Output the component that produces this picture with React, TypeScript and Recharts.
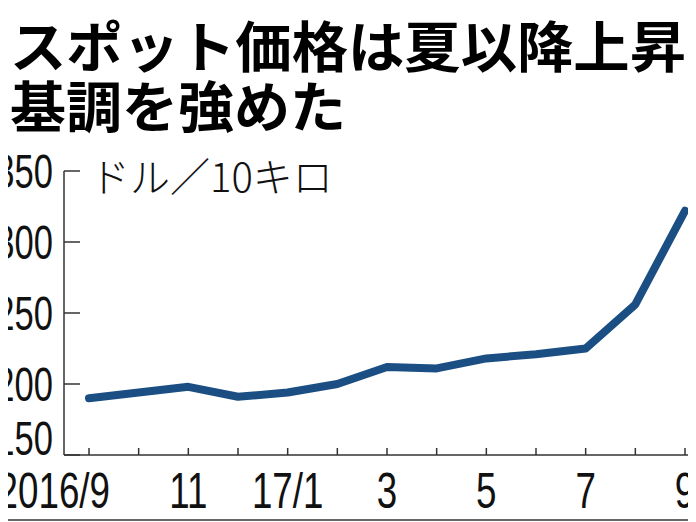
import { LineChart, Line, XAxis, YAxis } from 'recharts'

const months = ['2016/9', '10', '11', '12', '17/1', '2', '3', '4', '5', '6', '7', '8', '9']
const prices = [190, 194, 198, 191, 194, 200, 212, 211, 218, 221, 225, 256, 322]
const shownMonths = ['2016/9', '11', '17/1', '3', '5', '7', '9']
const yTicks = [150, 200, 250, 300, 350]

const titleLines = ['スポット価格は夏以降上昇', '基調を強めた']
const unitLabel = 'ドル／10キロ'

const data = months.map((month, i) => ({ month, price: prices[i] }))

const numFont = '"Liberation Sans", Arial, sans-serif'
const jpFont = '"Noto Sans CJK JP", "Noto Sans", sans-serif'

function XTick(props: any) {
  const { x, y, payload } = props
  if (!shownMonths.includes(payload.value)) return <g />
  // first label sits left of its tick in the original
  const first = payload.value === months[0]
  return (
    <text
      transform={`translate(${first ? x + 21 : x},${y + 60}) scale(0.75,1)`}
      textAnchor={first ? 'end' : 'middle'}
      fontFamily={numFont}
      fontSize={49}
      fill="#111"
    >
      {payload.value}
    </text>
  )
}

function YTick(props: any) {
  const { x, y, payload } = props
  const base = payload.value === 150 ? y : y + 17
  return (
    <text
      transform={`translate(${x},${base}) scale(0.72,1)`}
      textAnchor="end"
      fontFamily={numFont}
      fontSize={48}
      fill="#111"
    >
      {payload.value}
    </text>
  )
}

export default function App() {
  return (
    <div
      style={{
        position: 'relative',
        width: 696,
        height: 522,
        margin: '-8px 0 0 -8px',
        overflow: 'hidden',
        background: '#fff',
      }}
    >
      <LineChart
        width={730}
        height={522}
        data={data}
        margin={{ top: 171, right: 20, bottom: 7, left: 0 }}
      >
        <XAxis
          dataKey="month"
          interval={0}
          height={60}
          padding={{ left: 25, right: 25 }}
          axisLine={{ stroke: '#333', strokeWidth: 1.5 }}
          tickLine={{ stroke: '#333', strokeWidth: 1.5 }}
          tickSize={-7}
          tickMargin={0}
          tick={<XTick />}
        />
        <YAxis
          width={64}
          domain={[150, 350]}
          ticks={yTicks}
          interval={0}
          axisLine={{ stroke: '#333', strokeWidth: 1.5 }}
          tickLine={{ stroke: '#333', strokeWidth: 1.5 }}
          tickSize={-16}
          tickMargin={27}
          tick={<YTick />}
        />
        <Line
          dataKey="price"
          stroke="#1b4e82"
          strokeWidth={8}
          strokeLinejoin="round"
          strokeLinecap="round"
          dot={false}
          isAnimationActive={false}
        />
      </LineChart>
      <svg
        width={696}
        height={522}
        style={{ position: 'absolute', left: 0, top: 0, pointerEvents: 'none' }}
      >
        <line x1={0} y1={1} x2={696} y2={1} stroke="#555" strokeWidth={2} />
        <line x1={0} y1={520} x2={696} y2={520} stroke="#666" strokeWidth={2} />
        <text x={10} y={67} fontFamily={jpFont} fontWeight={700} fontSize={55} fill="#000"
          textLength={676} lengthAdjust="spacingAndGlyphs">
          {titleLines[0]}
        </text>
        <text x={10} y={127} fontFamily={jpFont} fontWeight={700} fontSize={55} fill="#000"
          textLength={336} lengthAdjust="spacingAndGlyphs">
          {titleLines[1]}
        </text>
        <text x={90} y={192} fontFamily={jpFont} fontWeight={300} fontSize={40} fill="#111">
          {unitLabel}
        </text>
      </svg>
    </div>
  )
}
